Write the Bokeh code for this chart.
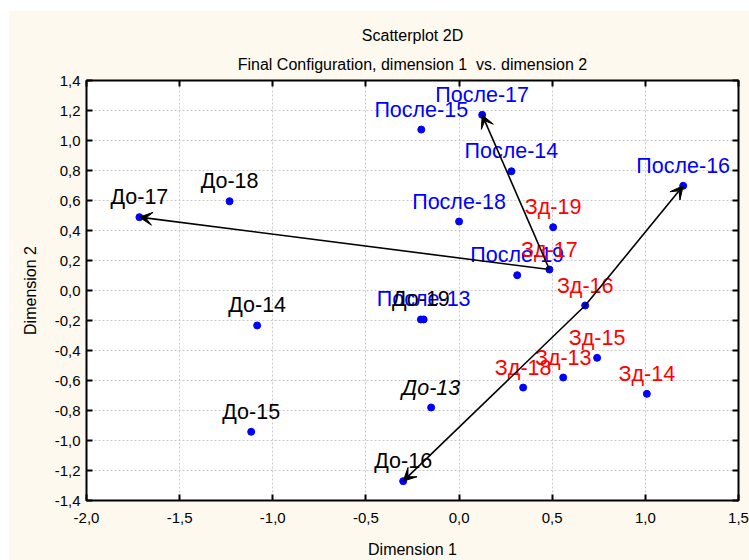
from bokeh.plotting import figure
from bokeh.models import (ColumnDataSource, LinearAxis, Title, Arrow, VeeHead,
                          CustomJSTickFormatter, FixedTicker, Range1d)
from bokeh.core.properties import value
from bokeh.embed import file_html
from bokeh.resources import INLINE

# ---------------- data ----------------
do_labels = ["До-13", "До-14", "До-15", "До-16", "До-17", "До-18", "До-19"]
do_x = [-0.15, -1.084, -1.116, -0.30, -1.716, -1.232, -0.205]
do_y = [-0.78, -0.233, -0.942, -1.271, 0.489, 0.595, -0.193]
do_styles = ["italic", "normal", "normal", "normal", "normal", "normal", "normal"]

posle_labels = ["После-13", "После-14", "После-15", "После-16", "После-17", "После-18", "После-19"]
posle_x = [-0.19, 0.281, -0.203, 1.203, 0.124, 0.0, 0.312]
posle_y = [-0.193, 0.795, 1.073, 0.698, 1.171, 0.46, 0.102]

zd_labels = ["Зд-13", "Зд-14", "Зд-15", "Зд-16", "Зд-17", "Зд-18", "Зд-19"]
zd_x = [0.559, 1.008, 0.741, 0.677, 0.485, 0.344, 0.505]
zd_y = [-0.58, -0.689, -0.449, -0.10, 0.14, -0.647, 0.422]

arrow_from = ["Зд-17", "Зд-17", "Зд-16", "Зд-16"]
arrow_to = ["До-17", "После-17", "До-16", "После-16"]

x_ticks = [-2.0, -1.5, -1.0, -0.5, 0.0, 0.5, 1.0, 1.5]
y_ticks = [-1.4, -1.2, -1.0, -0.8, -0.6, -0.4, -0.2, 0.0, 0.2, 0.4, 0.6, 0.8, 1.0, 1.2, 1.4]

title_top = "Scatterplot 2D"
title_sub = "Final Configuration, dimension 1\u00a0 vs. dimension 2"
x_label = "Dimension 1"
y_label = "Dimension 2"

# ---------------- figure ----------------
FONT = "Liberation Sans"
CREAM = "#FEF9EE"

p = figure(width=741, height=550, output_backend="svg", toolbar_location=None,
           x_range=Range1d(x_ticks[0], x_ticks[-1]), y_range=Range1d(y_ticks[0], y_ticks[-1]),
           x_axis_location=None, y_axis_location=None,
           title=title_top,
           min_border_left=78, min_border_right=11, min_border_top=70, min_border_bottom=60)
p.margin = (10, 0, 0, 8)
p.border_fill_color = CREAM
p.background_fill_color = "white"
p.outline_line_color = "black"
p.outline_line_width = 2

p.title.align = "center"
p.title.text_font = FONT
p.title.text_font_size = "16px"
p.title.text_font_style = "normal"
p.title.text_color = "black"
p.title.standoff = 6

fmt = CustomJSTickFormatter(code="return tick.toFixed(1).replace('.', ',');")
empty_fmt = CustomJSTickFormatter(code="return '';")


def style_axis(ax, labels=True):
    ax.axis_line_color = None
    ax.major_tick_in = 6
    ax.major_tick_out = 0
    ax.major_tick_line_width = 2
    ax.major_tick_line_color = "black"
    ax.minor_tick_line_color = None
    ax.major_label_text_font = FONT
    ax.major_label_text_font_size = "15px"
    ax.major_label_text_color = "black"
    ax.axis_label_text_font = FONT
    ax.axis_label_text_font_size = "16px"
    ax.axis_label_text_font_style = "normal"
    ax.axis_label_text_color = "black"
    if not labels:
        ax.major_label_standoff = 0


xt = LinearAxis(ticker=FixedTicker(ticks=x_ticks), formatter=empty_fmt)
style_axis(xt, labels=False)
p.add_layout(xt, "above")

t2 = Title(text=title_sub, align="center", text_font=FONT, text_font_size="16px",
           text_font_style="normal", text_color="black", standoff=15)
p.add_layout(t2, "above")

xb = LinearAxis(ticker=FixedTicker(ticks=x_ticks), formatter=fmt, axis_label=x_label)
style_axis(xb)
xb.major_label_standoff = 12
xb.axis_label_standoff = 15
p.add_layout(xb, "below")

yl = LinearAxis(ticker=FixedTicker(ticks=y_ticks), formatter=fmt, axis_label=y_label)
style_axis(yl)
yl.major_label_standoff = 6
yl.axis_label_standoff = 13
p.add_layout(yl, "left")

yr = LinearAxis(ticker=FixedTicker(ticks=y_ticks), formatter=empty_fmt)
style_axis(yr, labels=False)
p.add_layout(yr, "right")

p.xgrid.ticker = FixedTicker(ticks=x_ticks)
p.ygrid.ticker = FixedTicker(ticks=y_ticks)
for g in (p.xgrid, p.ygrid):
    g.grid_line_color = "#c8c8c8"
    g.grid_line_dash = "2 2"
    g.grid_line_width = 1

# ---------------- arrows ----------------
all_pos = {}
for labs, xs, ys in ((do_labels, do_x, do_y), (posle_labels, posle_x, posle_y), (zd_labels, zd_x, zd_y)):
    for l, xv, yv in zip(labs, xs, ys):
        all_pos[l] = (xv, yv)

arrow_src = ColumnDataSource(dict(
    x0=[all_pos[a][0] for a in arrow_from], y0=[all_pos[a][1] for a in arrow_from],
    x1=[all_pos[b][0] for b in arrow_to], y1=[all_pos[b][1] for b in arrow_to]))
p.add_layout(Arrow(source=arrow_src, x_start="x0", y_start="y0", x_end="x1", y_end="y1",
                   line_color="black", line_width=1.6,
                   end=VeeHead(size=13, fill_color="black", line_color="black", line_width=1)))

# ---------------- points & labels ----------------
do_src = ColumnDataSource(dict(x=do_x, y=do_y, t=do_labels, s=do_styles))
posle_src = ColumnDataSource(dict(x=posle_x, y=posle_y, t=posle_labels))
zd_src = ColumnDataSource(dict(x=zd_x, y=zd_y, t=zd_labels))

for src in (do_src, posle_src, zd_src):
    p.scatter("x", "y", source=src, size=7, color="#0000FF")

common = dict(text_align="center", text_baseline="alphabetic", y_offset=-20,
              text_font=value(FONT), text_font_size="21.5px")
p.text("x", "y", text="t", source=posle_src, text_color="#0000FF", **common)
p.text("x", "y", text="t", source=do_src, text_color="black", text_font_style="s", **common)
p.text("x", "y", text="t", source=zd_src, text_color="#FF0000", **common)

open("out.html", "w").write(file_html(p, INLINE))
